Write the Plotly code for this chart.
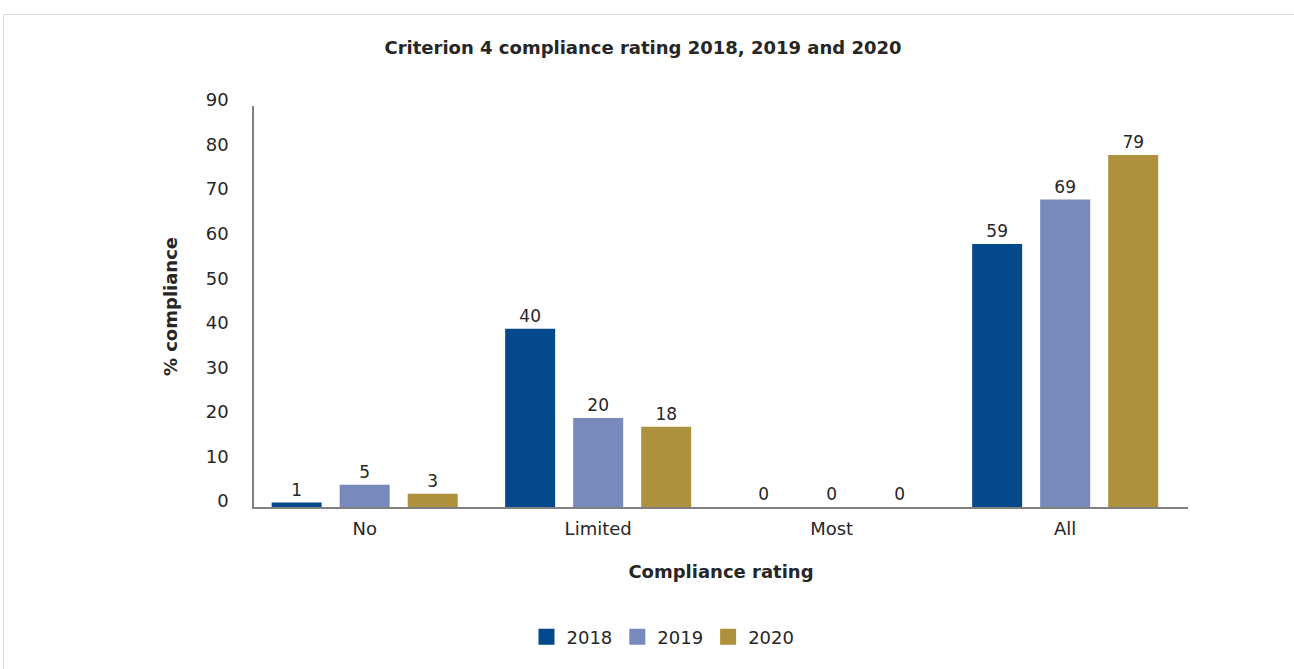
import plotly.graph_objects as go

# Compliance rating categories and yearly percentages
categories = ["No", "Limited", "Most", "All"]
years = ["2018", "2019", "2020"]
values_2018 = [1, 40, 0, 59]
values_2019 = [5, 20, 0, 69]
values_2020 = [3, 18, 0, 79]
y_ticks = [0, 10, 20, 30, 40, 50, 60, 70, 80, 90]

series = [values_2018, values_2019, values_2020]
colors = ["#03498C", "#788ABB", "#AE913D"]

FONT = "DejaVu Sans"
TEXT = "#262626"

# Plot area in pixels
W, H = 1294, 669
L, R, T, B = 254, 1188, 106, 507

fig = go.Figure()
for name, vals, col in zip(years, series, colors):
    fig.add_trace(go.Bar(
        x=categories, y=vals, name=name, showlegend=False,
        marker=dict(color=col, line=dict(width=0)),
        text=[str(v) for v in vals], textposition="outside",
        textfont=dict(family=FONT, size=17, color=TEXT),
        cliponaxis=False,
    ))

# Legend entries with larger square swatches
for name, col in zip(years, colors):
    fig.add_trace(go.Scatter(
        x=[None], y=[None], mode="markers", name=name,
        marker=dict(symbol="square", size=16, color=col),
        showlegend=True,
    ))


def px_x(p):
    return (p - L) / (R - L)


def px_y(p):
    return (B - p) / (B - T)


fig.update_layout(
    width=W, height=H, autosize=False,
    margin=dict(l=L, r=W - R, t=T, b=H - B, pad=0),
    paper_bgcolor="white", plot_bgcolor="white",
    barmode="group", bargap=0.126, bargroupgap=0.265,
    font=dict(family=FONT, color=TEXT),
    title=dict(
        text="<b>Criterion 4 compliance rating 2018, 2019 and 2020</b>",
        x=643 / W, xanchor="center", y=1 - 48 / H, yanchor="middle",
        font=dict(family=FONT, size=18, color=TEXT),
    ),
    xaxis=dict(
        type="category", range=[-0.474, 3.526],
        showline=True, linecolor="#808080", linewidth=1.5,
        showgrid=False, ticks="", zeroline=False,
        tickfont=dict(family=FONT, size=18, color=TEXT),
        ticklabelstandoff=5,
        title=dict(text="<b>Compliance rating</b>", standoff=27,
                   font=dict(family=FONT, size=18, color=TEXT)),
    ),
    yaxis=dict(
        range=[0, 90], tickvals=y_ticks,
        showline=True, linecolor="#808080", linewidth=1.5,
        showgrid=False, ticks="", zeroline=False,
        tickfont=dict(family=FONT, size=18, color=TEXT),
        ticklabelstandoff=20, ticklabelshift=-6,
        title=dict(text="<b>% compliance</b>", standoff=23,
                   font=dict(family=FONT, size=18, color=TEXT)),
    ),
    legend=dict(
        orientation="h", x=px_x(663), xanchor="center",
        y=px_y(637), yanchor="middle",
        font=dict(family=FONT, size=18, color=TEXT),
        itemwidth=30, traceorder="normal",
    ),
    shapes=[
        dict(type="line", xref="paper", yref="paper",
             x0=px_x(3), x1=px_x(1300), y0=px_y(14.5), y1=px_y(14.5),
             line=dict(color="#D9D9D9", width=1)),
        dict(type="line", xref="paper", yref="paper",
             x0=px_x(3.5), x1=px_x(3.5), y0=px_y(14), y1=px_y(680),
             line=dict(color="#D9D9D9", width=1)),
    ],
)

fig.write_html("out.html")
